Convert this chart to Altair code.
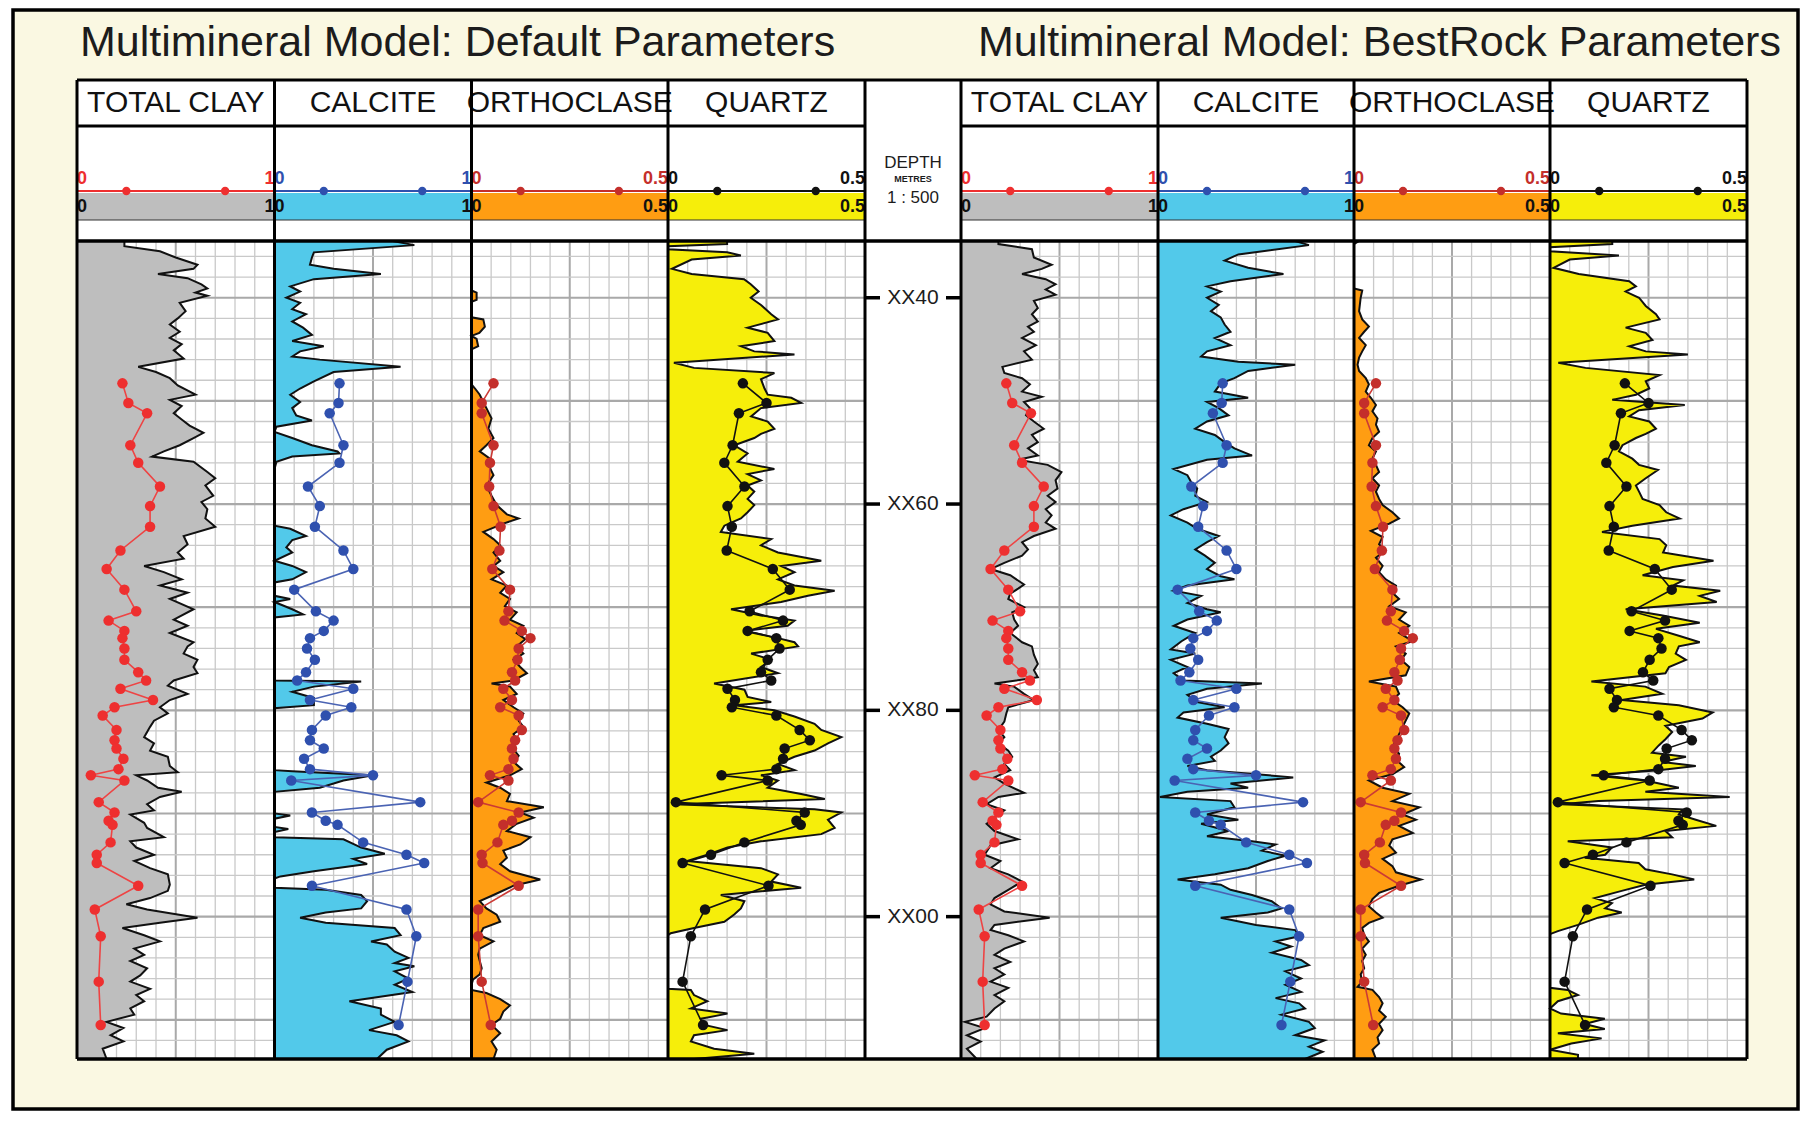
import altair as alt
import pandas as pd

# ---------------------------------------------------------------- text
PANEL_TITLES = ["Multimineral Model: Default Parameters",
                "Multimineral Model: BestRock Parameters"]
TRACK_NAMES = ["TOTAL CLAY", "CALCITE", "ORTHOCLASE", "QUARTZ"]
TRACK_MAX = [1.0, 1.0, 0.5, 0.5]
TRACK_LOW = ["0", "0", "0", "0"]
TRACK_HIGH = ["1", "1", "0.5", "0.5"]
DEPTH_HEADER = ["DEPTH", "METRES", "1 : 500"]
DEPTH_TICKS = [40, 60, 80, 100]
DEPTH_LABELS = ["XX40", "XX60", "XX80", "XX00"]
DEPTH_RANGE = [34.5, 113.8]
GRID_MINOR = [d for d in range(36, 114, 2) if d % 10]
GRID_MAJOR = [40, 50, 60, 70, 80, 90, 100, 110]

# ---------------------------------------------------------------- default-parameter curves (depth, value)
D_CLAY = [(34.5,0.24),(35.0,0.24),(35.5,0.42),(36.1,0.50),(36.8,0.61),(37.2,0.59),(37.7,0.41),(38.1,0.56),(38.7,0.63),(39.1,0.66),
 (39.5,0.60),(39.8,0.66),(40.5,0.52),(41.3,0.55),(42.0,0.51),(42.6,0.47),(43.3,0.52),(43.9,0.47),(44.5,0.53),(45.1,0.49),
 (45.9,0.54),(46.7,0.31),(47.2,0.40),(47.8,0.47),(48.5,0.51),(49.4,0.60),(49.9,0.47),(50.5,0.53),(51.2,0.49),(51.8,0.53),
 (52.4,0.57),(53.1,0.64),(53.6,0.59),(54.3,0.52),(54.9,0.44),(55.4,0.38),(55.9,0.59),(56.9,0.66),(57.5,0.70),(58.2,0.65),
 (59.2,0.69),(59.8,0.63),(60.5,0.66),(61.4,0.65),(62.2,0.70),(63.1,0.54),(63.9,0.56),(64.7,0.51),(65.3,0.54),(66.0,0.34),
 (66.6,0.44),(67.3,0.53),(67.9,0.42),(68.6,0.56),(69.2,0.47),(70.2,0.59),(71.2,0.49),(71.8,0.56),(72.5,0.47),(73.4,0.59),
 (73.8,0.56),(74.5,0.54),(75.1,0.61),(75.8,0.59),(76.4,0.61),(77.1,0.49),(77.6,0.46),(78.4,0.56),(79.0,0.47),(79.7,0.42),
 (80.3,0.46),(81.0,0.39),(81.6,0.37),(82.6,0.34),(83.2,0.39),(83.9,0.37),(84.5,0.46),(85.4,0.47),(86.0,0.51),(86.3,0.30),
 (86.8,0.355),(87.5,0.41),(87.9,0.53),(88.4,0.42),(89.1,0.355),(89.7,0.39),(90.1,0.27),(90.9,0.34),(91.4,0.355),(92.3,0.44),
 (92.7,0.27),(93.3,0.30),(94.0,0.39),(94.6,0.29),(95.3,0.37),(95.9,0.46),(96.9,0.47),(97.5,0.46),(98.2,0.37),(98.8,0.25),
 (99.3,0.355),(100.1,0.61),(100.6,0.42),(101.1,0.23),(101.8,0.34),(102.4,0.42),(103.1,0.29),(103.7,0.34),(104.3,0.27),(105.0,0.355),
 (105.7,0.32),(106.3,0.27),(107.0,0.37),(107.6,0.30),(108.2,0.34),(108.9,0.27),(109.5,0.29),(110.2,0.15),(110.8,0.235),(111.5,0.17),
 (112.1,0.235),(112.8,0.13),(113.8,0.15)]

D_CALC = [(34.5,0.60),(34.9,0.71),(35.6,0.20),(36.1,0.19),(36.8,0.18),(37.2,0.30),(37.7,0.54),(38.2,0.20),(38.9,0.08),(39.4,0.13),
 (40.0,0.06),(40.5,0.13),(41.1,0.09),(41.6,0.16),(42.3,0.09),(42.9,0.145),(43.6,0.19),(44.2,0.09),(44.7,0.25),(45.2,0.13),
 (45.7,0.09),(46.0,0.23),(46.7,0.64),(47.2,0.30),(48.1,0.20),(48.8,0.13),(49.4,0.08),(50.1,0.13),(50.7,0.09),(51.4,0.11),
 (51.9,0.19),(52.5,0.01),(53.0,0.0),(53.6,0.09),(54.3,0.19),(54.9,0.32),(55.1,0.33),(55.4,0.09),(55.9,0.01),(56.6,0.0),
 (62.1,0.0),(62.4,0.08),(63.1,0.16),(63.5,0.09),(64.2,0.06),(64.7,0.09),(65.5,0.0),(66.0,0.09),(66.6,0.16),(67.3,0.09),
 (67.6,0.0),(68.9,0.0),(69.2,0.08),(69.5,0.0),(70.2,0.09),(70.7,0.145),(71.0,0.0),(77.1,0.0),(77.2,0.44),(77.7,0.20),
 (78.2,0.09),(78.8,0.20),(79.5,0.20),(79.8,0.0),(85.8,0.0),(85.9,0.09),(86.3,0.50),(86.8,0.35),(87.5,0.23),(87.9,0.0),
 (90.0,0.0),(90.2,0.08),(90.5,0.0),(91.3,0.0),(91.5,0.07),(91.8,0.0),(92.3,0.0),(92.5,0.35),(93.3,0.44),(93.9,0.56),
 (94.4,0.40),(94.9,0.47),(95.6,0.20),(96.1,0.03),(96.3,0.0),(97.2,0.0),(97.4,0.26),(97.9,0.44),(98.5,0.47),(99.2,0.44),
 (99.6,0.26),(100.1,0.13),(100.6,0.26),(101.1,0.61),(101.8,0.64),(102.4,0.49),(102.7,0.57),(103.4,0.61),(104.0,0.68),(104.5,0.61),
 (104.8,0.71),(105.3,0.61),(106.0,0.68),(106.6,0.61),(107.3,0.70),(108.2,0.38),(108.9,0.54),(109.5,0.54),(110.2,0.61),(111.0,0.48),
 (111.5,0.62),(112.1,0.68),(112.9,0.57),(113.8,0.52)]

D_ORTH = [(34.5,0.0),(39.3,0.0),(39.5,0.013),(40.2,0.013),(40.4,0.0),(41.9,0.0),(42.1,0.03),(42.8,0.034),(43.4,0.02),(43.7,0.0),
 (44.0,0.013),(44.7,0.017),(45.0,0.0),(48.4,0.0),(48.8,0.009),(49.4,0.021),(50.1,0.03),(50.7,0.038),(51.7,0.051),(52.7,0.043),
 (53.6,0.056),(54.3,0.038),(54.9,0.021),(55.6,0.047),(56.2,0.043),(57.2,0.056),(58.2,0.038),(59.2,0.051),(60.1,0.064),(61.0,0.09),
 (61.4,0.12),(61.9,0.081),(62.7,0.03),(63.4,0.056),(64.0,0.073),(64.7,0.056),(65.5,0.073),(66.0,0.056),(66.6,0.081),(67.3,0.051),
 (67.9,0.09),(68.6,0.073),(69.2,0.098),(69.9,0.085),(70.5,0.115),(71.2,0.098),(71.8,0.132),(72.5,0.115),(73.1,0.137),(73.8,0.115),
 (74.5,0.132),(75.1,0.107),(75.8,0.124),(76.4,0.141),(77.1,0.107),(77.4,0.051),(77.7,0.098),(78.4,0.115),(79.0,0.081),(79.7,0.107),
 (80.3,0.132),(81.0,0.12),(81.6,0.132),(82.3,0.107),(82.9,0.115),(83.6,0.103),(84.4,0.12),(85.0,0.107),(85.7,0.128),(86.3,0.098),
 (87.0,0.038),(87.5,0.073),(88.1,0.098),(88.8,0.09),(89.4,0.184),(89.9,0.124),(90.4,0.158),(91.0,0.115),(91.7,0.09),(92.3,0.15),
 (93.0,0.124),(93.6,0.081),(94.3,0.09),(94.9,0.073),(95.6,0.098),(96.4,0.175),(97.0,0.107),(97.9,0.056),(98.5,0.021),(99.2,0.038),
 (99.8,0.064),(100.5,0.073),(101.1,0.03),(101.8,0.021),(102.4,0.056),(103.1,0.021),(103.7,0.017),(104.3,0.021),(105.0,0.026),(105.6,0.021),
 (106.1,0.004),(106.6,0.0),(107.1,0.0),(107.4,0.038),(108.0,0.073),(108.6,0.098),(109.2,0.081),(109.9,0.073),(110.5,0.051),(111.3,0.073),
 (112.1,0.051),(112.9,0.064),(113.8,0.056)]

D_QTZ = [(34.5,0.15),(34.8,0.15),(35.0,0.0),(35.3,0.0),(35.6,0.15),(35.9,0.185),(36.3,0.06),(37.2,0.01),(37.7,0.06),(38.2,0.193),
 (38.7,0.21),(39.4,0.23),(40.0,0.21),(40.7,0.236),(41.6,0.262),(42.1,0.279),(42.9,0.202),(43.4,0.253),(44.2,0.27),(44.7,0.185),
 (45.2,0.219),(45.5,0.321),(46.3,0.015),(46.8,0.066),(47.3,0.27),(47.9,0.236),(48.8,0.245),(49.4,0.253),(49.7,0.313),(50.2,0.338),
 (50.7,0.236),(51.5,0.211),(52.0,0.253),(52.7,0.27),(53.2,0.236),(53.6,0.219),(54.3,0.168),(55.1,0.202),(55.9,0.177),(56.6,0.27),
 (57.1,0.202),(57.7,0.236),(58.2,0.202),(58.8,0.219),(59.5,0.202),(60.1,0.219),(60.8,0.202),(61.4,0.185),(62.1,0.143),(62.7,0.134),
 (63.4,0.262),(64.0,0.236),(64.7,0.279),(65.5,0.389),(66.0,0.287),(66.6,0.321),(67.3,0.279),(67.9,0.321),(68.4,0.423),(68.9,0.355),
 (69.5,0.287),(70.2,0.16),(70.8,0.236),(71.3,0.321),(71.8,0.304),(72.3,0.194),(73.0,0.279),(73.4,0.321),(73.8,0.33),(74.5,0.211),
 (75.1,0.262),(75.8,0.236),(76.4,0.279),(77.4,0.117),(78.0,0.194),(78.7,0.202),(79.2,0.262),(79.5,0.168),(80.0,0.27),(80.6,0.321),
 (81.3,0.372),(81.9,0.389),(82.6,0.44),(83.2,0.406),(83.9,0.372),(84.5,0.321),(85.2,0.279),(85.8,0.321),(86.3,0.236),(86.8,0.279),
 (87.5,0.253),(88.1,0.338),(88.6,0.398),(89.1,0.015),(89.6,0.372),(89.9,0.44),(90.6,0.406),(91.4,0.423),(92.0,0.389),(92.7,0.236),
 (93.3,0.151),(94.0,0.1),(94.6,0.049),(95.3,0.236),(95.9,0.279),(96.6,0.262),(97.2,0.338),(97.9,0.134),(98.5,0.194),(99.2,0.185),
 (99.8,0.168),(100.5,0.143),(101.1,0.066),(101.6,0.007),(101.8,0.0),(107.0,0.0),(107.1,0.058),(107.6,0.066),(108.2,0.1),(108.9,0.058),
 (109.4,0.151),(109.9,0.083),(110.5,0.092),(111.0,0.151),(111.5,0.066),(112.1,0.058),(112.8,0.117),(113.3,0.219),(113.8,0.066)]

# ---------------------------------------------------------------- BestRock-parameter curves (depth, value)
B_CLAY = [(34.5,0.19),(34.8,0.19),(35.3,0.36),(36.1,0.37),(36.8,0.46),(37.2,0.41),(37.7,0.31),(38.2,0.43),(38.7,0.48),(39.2,0.43),
 (39.7,0.48),(40.3,0.37),(41.0,0.39),(41.6,0.36),(42.3,0.39),(42.8,0.34),(43.3,0.37),(43.9,0.31),(44.6,0.38),(45.2,0.32),
 (46.0,0.36),(46.7,0.21),(47.3,0.22),(47.8,0.31),(48.4,0.35),(49.1,0.31),(49.6,0.41),(50.1,0.32),(50.7,0.35),(51.4,0.33),
 (52.0,0.37),(52.7,0.42),(53.3,0.36),(54.0,0.39),(54.6,0.34),(55.3,0.39),(55.7,0.29),(56.2,0.44),(56.9,0.51),(57.7,0.48),
 (58.5,0.49),(59.2,0.44),(59.8,0.48),(60.5,0.43),(61.1,0.46),(61.8,0.43),(62.4,0.48),(63.1,0.37),(63.7,0.31),(64.4,0.34),
 (65.0,0.31),(65.7,0.22),(66.3,0.15),(66.9,0.25),(67.8,0.32),(68.2,0.29),(68.7,0.25),(69.2,0.24),(70.0,0.32),(70.5,0.26),
 (71.2,0.27),(71.8,0.29),(72.5,0.25),(73.4,0.31),(73.8,0.36),(74.6,0.37),(75.5,0.39),(76.1,0.37),(76.8,0.39),(77.4,0.17),
 (77.7,0.27),(78.4,0.32),(79.0,0.37),(79.7,0.24),(80.3,0.23),(81.1,0.22),(81.9,0.19),(82.6,0.22),(83.2,0.19),(83.9,0.24),
 (84.5,0.26),(85.2,0.22),(85.8,0.25),(86.5,0.17),(87.1,0.22),(88.0,0.32),(88.4,0.19),(89.1,0.13),(89.7,0.22),(90.4,0.17),
 (91.0,0.13),(91.7,0.17),(92.5,0.29),(93.1,0.15),(94.0,0.12),(94.6,0.20),(95.3,0.15),(95.9,0.24),(96.6,0.31),(97.4,0.24),
 (98.2,0.17),(98.8,0.15),(99.5,0.22),(100.1,0.45),(100.8,0.17),(101.3,0.15),(101.8,0.24),(102.4,0.32),(103.1,0.22),(103.7,0.17),
 (104.4,0.25),(105.0,0.17),(105.6,0.22),(106.3,0.15),(106.9,0.24),(107.6,0.17),(108.2,0.22),(108.9,0.17),(109.7,0.13),(110.2,0.02),
 (110.8,0.12),(111.5,0.03),(112.1,0.10),(112.8,0.03),(113.8,0.08)]

B_CALC = [(34.5,0.70),(34.9,0.77),(35.8,0.41),(36.4,0.34),(37.1,0.46),(37.7,0.64),(38.4,0.37),(38.9,0.25),(39.4,0.32),(40.0,0.25),
 (40.7,0.31),(41.3,0.27),(41.9,0.32),(42.6,0.34),(43.3,0.37),(43.9,0.29),(44.6,0.37),(45.2,0.25),(45.7,0.22),(46.2,0.41),
 (46.5,0.70),(47.1,0.46),(47.8,0.39),(48.3,0.32),(49.1,0.29),(49.7,0.46),(50.1,0.25),(50.7,0.31),(51.4,0.36),(52.0,0.25),
 (52.7,0.19),(53.3,0.29),(54.0,0.34),(54.6,0.39),(55.3,0.48),(55.7,0.25),(56.6,0.08),(57.2,0.15),(57.9,0.17),(58.5,0.20),
 (59.2,0.19),(59.8,0.25),(60.5,0.13),(61.1,0.065),(61.8,0.15),(62.4,0.20),(63.1,0.31),(63.7,0.25),(64.4,0.19),(65.0,0.24),
 (65.7,0.29),(66.3,0.25),(67.0,0.32),(67.3,0.39),(67.9,0.15),(68.4,0.08),(68.9,0.22),(69.6,0.15),(70.2,0.25),(70.5,0.32),
 (71.2,0.15),(71.8,0.08),(72.5,0.19),(73.3,0.12),(74.1,0.065),(74.5,0.19),(75.1,0.065),(75.8,0.15),(76.4,0.08),(77.1,0.13),
 (77.4,0.53),(77.9,0.25),(78.5,0.15),(79.2,0.20),(79.7,0.34),(80.2,0.13),(80.7,0.10),(81.3,0.25),(81.8,0.36),(82.6,0.34),
 (83.2,0.36),(83.9,0.32),(84.5,0.27),(84.9,0.29),(85.4,0.15),(85.8,0.25),(86.5,0.69),(87.1,0.37),(87.5,0.46),(87.9,0.15),
 (88.4,0.01),(88.8,0.37),(89.4,0.39),(90.1,0.25),(90.6,0.41),(91.0,0.22),(91.7,0.36),(92.2,0.25),(92.7,0.48),(93.0,0.60),
 (93.6,0.53),(94.1,0.65),(94.6,0.56),(95.3,0.46),(95.9,0.29),(96.4,0.10),(96.9,0.32),(97.4,0.37),(97.9,0.48),(98.5,0.58),
 (99.2,0.63),(99.6,0.56),(100.1,0.32),(100.8,0.50),(101.3,0.70),(101.9,0.72),(102.4,0.60),(102.9,0.68),(103.5,0.58),(104.2,0.73),
 (104.7,0.77),(105.3,0.65),(106.0,0.73),(106.6,0.65),(107.3,0.73),(107.9,0.60),(108.4,0.72),(108.9,0.75),(109.5,0.63),(110.2,0.77),
 (110.8,0.80),(111.5,0.70),(112.0,0.85),(112.6,0.77),(113.1,0.84),(113.8,0.75)]

B_ORTH = [(34.5,0.013),(34.8,0.0),(39.1,0.0),(39.3,0.021),(40.0,0.017),(41.3,0.013),(42.1,0.021),(42.8,0.038),(43.3,0.026),(43.9,0.013),
 (44.6,0.03),(45.2,0.021),(45.8,0.013),(46.5,0.009),(47.1,0.013),(47.8,0.03),(48.4,0.038),(49.1,0.03),(49.7,0.043),(50.4,0.056),
 (51.0,0.047),(51.7,0.06),(52.3,0.056),(53.0,0.064),(53.6,0.047),(54.3,0.038),(54.9,0.056),(55.6,0.047),(56.2,0.056),(56.9,0.064),
 (57.5,0.047),(58.2,0.064),(58.8,0.056),(59.5,0.064),(60.1,0.073),(60.8,0.098),(61.4,0.115),(61.9,0.09),(62.6,0.043),(63.2,0.073),
 (63.9,0.064),(64.5,0.081),(65.2,0.056),(66.0,0.073),(66.6,0.064),(67.3,0.081),(67.9,0.107),(68.6,0.098),(69.2,0.115),(69.9,0.09),
 (70.5,0.132),(71.2,0.115),(71.8,0.141),(72.5,0.115),(73.3,0.15),(73.8,0.107),(74.5,0.132),(75.1,0.12),(75.8,0.141),(76.6,0.132),
 (77.2,0.038),(77.7,0.107),(78.4,0.115),(79.0,0.098),(79.7,0.124),(80.3,0.141),(81.0,0.132),(81.6,0.124),(82.3,0.115),(82.9,0.107),
 (83.6,0.098),(84.2,0.115),(84.9,0.111),(85.5,0.128),(86.2,0.098),(86.8,0.038),(87.5,0.073),(88.1,0.141),(88.8,0.098),(89.4,0.167),
 (90.1,0.124),(90.6,0.158),(91.2,0.115),(91.9,0.15),(92.5,0.098),(93.1,0.09),(93.8,0.107),(94.4,0.073),(95.1,0.098),(95.7,0.107),
 (96.4,0.171),(97.0,0.115),(97.7,0.064),(98.3,0.047),(99.0,0.038),(99.6,0.056),(100.1,0.073),(100.6,0.038),(101.1,0.021),(101.8,0.026),
 (102.4,0.038),(103.1,0.021),(103.7,0.03),(104.3,0.021),(105.0,0.026),(105.6,0.017),(106.3,0.021),(106.8,0.009),(107.1,0.047),(107.8,0.064),
 (108.4,0.073),(109.1,0.064),(109.7,0.081),(110.4,0.064),(111.0,0.073),(111.7,0.06),(112.3,0.064),(112.9,0.047),(113.8,0.056)]

B_QTZ = [(34.5,0.158),(34.8,0.158),(35.1,0.0),(35.5,0.0),(35.9,0.175),(36.3,0.05),(37.1,0.009),(37.7,0.073),(38.4,0.201),(38.9,0.218),
 (39.4,0.192),(40.0,0.226),(40.8,0.243),(41.6,0.269),(42.1,0.278),(42.9,0.192),(43.4,0.243),(44.1,0.26),(44.7,0.201),(45.2,0.243),
 (45.5,0.35),(46.3,0.021),(46.8,0.09),(47.5,0.278),(48.1,0.243),(48.8,0.252),(49.4,0.218),(49.9,0.158),(50.4,0.342),(50.9,0.226),
 (51.5,0.201),(52.0,0.252),(52.7,0.269),(53.2,0.243),(53.6,0.218),(54.3,0.184),(54.9,0.175),(55.6,0.209),(56.2,0.226),(56.7,0.274),
 (57.5,0.243),(58.2,0.218),(58.8,0.226),(59.5,0.235),(60.1,0.278),(60.8,0.295),(61.4,0.329),(62.1,0.209),(62.7,0.132),(63.4,0.278),
 (64.0,0.295),(64.7,0.287),(65.5,0.415),(66.1,0.312),(66.9,0.235),(67.4,0.338),(67.9,0.312),(68.4,0.432),(68.9,0.38),(69.5,0.423),
 (70.2,0.192),(70.8,0.286),(71.5,0.38),(72.1,0.269),(72.8,0.329),(73.4,0.38),(73.8,0.327),(74.5,0.319),(75.1,0.345),(75.8,0.302),
 (76.4,0.293),(77.2,0.105),(77.7,0.242),(78.4,0.285),(79.0,0.182),(79.5,0.327),(80.2,0.413),(80.8,0.387),(81.5,0.293),(82.1,0.31),
 (82.8,0.293),(83.4,0.276),(84.1,0.259),(84.5,0.345),(85.0,0.285),(85.4,0.37),(85.8,0.276),(86.3,0.105),(86.8,0.242),(87.5,0.327),
 (87.9,0.242),(88.4,0.456),(88.8,0.123),(89.1,0.028),(89.6,0.336),(90.1,0.327),(90.6,0.37),(91.2,0.422),(91.7,0.293),(92.3,0.31),
 (92.7,0.045),(93.3,0.157),(94.0,0.14),(94.3,0.088),(94.8,0.225),(95.4,0.242),(95.9,0.31),(96.4,0.366),(96.9,0.242),(97.5,0.182),
 (98.2,0.114),(98.7,0.157),(99.2,0.14),(99.6,0.182),(100.1,0.122),(100.8,0.071),(101.4,0.02),(101.7,0.0),(106.9,0.0),(107.1,0.045),
 (107.6,0.071),(108.2,0.02),(108.9,0.0),(109.4,0.028),(109.9,0.139),(110.4,0.088),(110.9,0.139),(111.3,0.02),(111.8,0.131),(112.3,0.054),
 (112.9,0.0),(113.4,0.071),(113.8,0.071)]

# ---------------------------------------------------------------- core measurements (same in both panels)
CORE_DEPTH = [48.3, 50.2, 51.2, 54.3, 56.0, 58.3, 60.2, 62.2, 64.5, 66.3, 68.3, 70.4, 71.3, 72.3, 73.0,
              74.0, 75.1, 76.3, 77.1, 77.9, 79.0, 79.7, 80.5, 81.9, 82.9, 83.7, 84.7, 85.7, 86.3, 86.8,
              88.9, 89.9, 90.7, 91.1, 92.8, 94.0, 94.8, 97.0, 99.3, 101.9, 106.3, 110.5]
CORE_CLAY = [0.23, 0.26, 0.355, 0.27, 0.31, 0.42, 0.37, 0.37, 0.22, 0.15, 0.24, 0.30, 0.16, 0.24, 0.23,
             0.24, 0.24, 0.31, 0.35, 0.22, 0.385, 0.19, 0.13, 0.20, 0.19, 0.20, 0.235, 0.21, 0.07, 0.24,
             0.11, 0.19, 0.16, 0.18, 0.17, 0.10, 0.10, 0.31, 0.09, 0.12, 0.11, 0.12]
CORE_CALCITE = [0.33, 0.325, 0.28, 0.35, 0.33, 0.17, 0.23, 0.205, 0.35, 0.40, 0.10, 0.21, 0.30, 0.25, 0.18,
                0.165, 0.205, 0.16, 0.115, 0.40, 0.18, 0.39, 0.26, 0.19, 0.18, 0.25, 0.15, 0.18, 0.50, 0.085,
                0.74, 0.19, 0.26, 0.32, 0.45, 0.67, 0.76, 0.19, 0.67, 0.72, 0.675, 0.63]
CORE_ORTHO = [0.056, 0.026, 0.026, 0.056, 0.047, 0.045, 0.056, 0.074, 0.071, 0.053, 0.098, 0.094, 0.084, 0.128, 0.15,
              0.12, 0.117, 0.103, 0.111, 0.081, 0.103, 0.073, 0.12, 0.128, 0.111, 0.103, 0.107, 0.094, 0.047, 0.094,
              0.017, 0.12, 0.103, 0.081, 0.066, 0.026, 0.028, 0.12, 0.017, 0.017, 0.026, 0.049]
CORE_QUARTZ = [0.19, 0.25, 0.18, 0.164, 0.143, 0.194, 0.151, 0.162, 0.149, 0.266, 0.309, 0.207, 0.292, 0.202, 0.275,
               0.283, 0.253, 0.236, 0.262, 0.151, 0.17, 0.162, 0.275, 0.334, 0.36, 0.296, 0.292, 0.275, 0.136, 0.253,
               0.02, 0.347, 0.326, 0.337, 0.194, 0.109, 0.037, 0.255, 0.094, 0.058, 0.037, 0.089]

# ---------------------------------------------------------------- style / layout
FONT = "Liberation Sans"
CREAM = "#faf8e2"
GRID = "#c9c9c9"
GRID_DARK = "#a9a9a9"
FILL = ["#bebebe", "#52c9ea", "#ff9d12", "#f6ee0a"]
DOT = ["#ee2f2f", "#2f50ae", "#c42f2b", "#111111"]
CORE_LINE = ["#ee4444", "#4a63b3", "#cc3a35", "#111111"]

H = 818
FULL_W = 1670
TRACK_X = [(0, 197.5), (197.5, 394.5), (394.5, 591), (591, 788),
           (884, 1081), (1081, 1277), (1277, 1473), (1473, 1670)]
DEPTH_X = (788, 884)
EDGES = [0, 197.5, 394.5, 591, 788, 884, 1081, 1277, 1473, 1670]
Y_HEAD = -161
Y_NAMEBOT = -115

YS = alt.Scale(domain=DEPTH_RANGE, reverse=True, nice=False, zero=False)
ONE = pd.DataFrame({"k": [0]})
layers = []


def deco_rule(x, x2, y, y2, **kw):
    return alt.Chart(ONE).mark_rule(**kw).encode(
        x=alt.value(x), x2=alt.value(x2), y=alt.value(y), y2=alt.value(y2))


def ytrack():
    return alt.Y("d:Q", scale=YS, axis=None)


# background frame
layers.append(alt.Chart(ONE).mark_rect(fill=CREAM, stroke="black", strokeWidth=3.5).encode(
    x=alt.value(-64), x2=alt.value(1721), y=alt.value(-231), y2=alt.value(868)))
layers.append(alt.Chart(ONE).mark_rect(fill="white").encode(
    x=alt.value(0), x2=alt.value(FULL_W), y=alt.value(Y_HEAD), y2=alt.value(H)))

# panel titles
for px, title in zip([3, 901], PANEL_TITLES):
    layers.append(alt.Chart(ONE).mark_text(align="left", baseline="middle", fontSize=43, font=FONT,
                                          color="#1c1c1c").encode(
        x=alt.value(px), y=alt.value(-198), text=alt.value(title)))

panels = [[D_CLAY, D_CALC, D_ORTH, D_QTZ], [B_CLAY, B_CALC, B_ORTH, B_QTZ]]
cores = [CORE_CLAY, CORE_CALCITE, CORE_ORTHO, CORE_QUARTZ]
minor_df = pd.DataFrame({"d": GRID_MINOR})
major_df = pd.DataFrame({"d": GRID_MAJOR})

for p in range(2):
    for t in range(4):
        span = TRACK_X[p * 4 + t]
        xmax = TRACK_MAX[t]
        sc = alt.Scale(domain=[0, xmax], range=[span[0], span[1]], nice=False, zero=False)

        def XD(v):
            return alt.XDatum(v, scale=sc, axis=None)

        # grid: vertical
        gv_minor = pd.DataFrame({"g": [xmax * i / 10 for i in range(1, 10) if i != 5]})
        gv_major = pd.DataFrame({"g": [xmax * 0.5]})
        layers.append(alt.Chart(gv_minor).mark_rule(color=GRID, strokeWidth=1.3).encode(
            x=alt.X("g:Q", scale=sc, axis=None), y=alt.value(0), y2=alt.value(H)))
        layers.append(alt.Chart(gv_major).mark_rule(color=GRID_DARK, strokeWidth=2).encode(
            x=alt.X("g:Q", scale=sc, axis=None), y=alt.value(0), y2=alt.value(H)))
        # grid: horizontal
        layers.append(alt.Chart(minor_df).mark_rule(color=GRID, strokeWidth=1.3).encode(
            y=ytrack(), x=XD(0), x2=alt.X2Datum(xmax)))
        layers.append(alt.Chart(major_df).mark_rule(color=GRID_DARK, strokeWidth=2.2).encode(
            y=ytrack(), x=XD(0), x2=alt.X2Datum(xmax)))

        # curve
        cdf = pd.DataFrame(panels[p][t], columns=["d", "v"])
        layers.append(alt.Chart(cdf).mark_area(orient="horizontal", color=FILL[t], opacity=1).encode(
            y=ytrack(), x=alt.X("v:Q", scale=sc, axis=None, stack=None), x2=alt.X2Datum(0)))
        layers.append(alt.Chart(cdf).mark_line(color="#111111", strokeWidth=2).encode(
            y=ytrack(), x=alt.X("v:Q", scale=sc, axis=None), order=alt.Order("d:Q")))

        # core points
        kdf = pd.DataFrame({"d": CORE_DEPTH, "v": cores[t]})
        layers.append(alt.Chart(kdf).mark_line(color=CORE_LINE[t], strokeWidth=1.6).encode(
            y=ytrack(), x=alt.X("v:Q", scale=sc, axis=None), order=alt.Order("d:Q")))
        layers.append(alt.Chart(kdf).mark_circle(color=DOT[t], size=110, opacity=1).encode(
            y=ytrack(), x=alt.X("v:Q", scale=sc, axis=None)))

        # header: name
        layers.append(alt.Chart(pd.DataFrame({"name": [TRACK_NAMES[t]]})).mark_text(
            fontSize=30, font=FONT, color="#111111", baseline="middle").encode(
            x=XD(xmax / 2), y=alt.value(-138), text="name:N"))
        # header: colour band
        layers.append(alt.Chart(ONE).mark_rect(color=FILL[t]).encode(
            x=XD(0), x2=alt.X2Datum(xmax), y=alt.value(-48), y2=alt.value(-21)))
        layers.append(alt.Chart(ONE).mark_rule(color="#333333", strokeWidth=1.2).encode(
            x=XD(0), x2=alt.X2Datum(xmax), y=alt.value(-21)))
        # header: core line legend
        layers.append(alt.Chart(ONE).mark_rule(color=DOT[t], strokeWidth=1.8).encode(
            x=XD(0), x2=alt.X2Datum(xmax), y=alt.value(-50)))
        layers.append(alt.Chart(pd.DataFrame({"g": [xmax * 0.25, xmax * 0.75]})).mark_circle(
            color=DOT[t], size=70, opacity=1).encode(
            x=alt.X("g:Q", scale=sc, axis=None), y=alt.value(-50)))
        # header: scale numbers
        for yy, col in [(-62, DOT[t]), (-34, "#111111")]:
            layers.append(alt.Chart(ONE).mark_text(align="left", baseline="middle", fontSize=18,
                                                   fontWeight="bold", font=FONT, color=col, dx=0).encode(
                x=XD(0), y=alt.value(yy), text=alt.value(TRACK_LOW[t])))
            layers.append(alt.Chart(ONE).mark_text(align="right", baseline="middle", fontSize=18,
                                                   fontWeight="bold", font=FONT, color=col, dx=0).encode(
                x=XD(xmax), y=alt.value(yy), text=alt.value(TRACK_HIGH[t])))

# depth column
dcx = (DEPTH_X[0] + DEPTH_X[1]) / 2
for txt, yy, fs, fw in [(DEPTH_HEADER[0], -78, 17, "normal"), (DEPTH_HEADER[1], -62, 9, "bold"),
                        (DEPTH_HEADER[2], -43, 17, "normal")]:
    layers.append(alt.Chart(ONE).mark_text(fontSize=fs, fontWeight=fw, font=FONT, color="#1c1c1c",
                                          baseline="middle").encode(
        x=alt.value(dcx), y=alt.value(yy), text=alt.value(txt)))
ddf = pd.DataFrame({"d": DEPTH_TICKS, "lab": DEPTH_LABELS})
layers.append(alt.Chart(ddf).mark_rule(color="black", strokeWidth=3.5).encode(
    y=ytrack(), x=alt.value(DEPTH_X[0]), x2=alt.value(DEPTH_X[0] + 15)))
layers.append(alt.Chart(ddf).mark_rule(color="black", strokeWidth=3.5).encode(
    y=ytrack(), x=alt.value(DEPTH_X[1] - 15), x2=alt.value(DEPTH_X[1])))
layers.append(alt.Chart(ddf).mark_text(fontSize=21, font=FONT, color="#1c1c1c", baseline="middle").encode(
    y=ytrack(), x=alt.value(dcx), text="lab:N"))

# frame lines
layers.append(deco_rule(0, FULL_W, Y_HEAD, Y_HEAD, color="black", strokeWidth=3))
layers.append(deco_rule(0, DEPTH_X[0], Y_NAMEBOT, Y_NAMEBOT, color="black", strokeWidth=3))
layers.append(deco_rule(DEPTH_X[1], FULL_W, Y_NAMEBOT, Y_NAMEBOT, color="black", strokeWidth=3))
layers.append(deco_rule(0, FULL_W, 0, 0, color="black", strokeWidth=3.5))
layers.append(deco_rule(0, FULL_W, H, H, color="black", strokeWidth=3.5))
for e in EDGES:
    layers.append(deco_rule(e, e, Y_HEAD, H, color="black", strokeWidth=3))

chart = alt.layer(*layers).resolve_scale(x="independent").properties(
    width=FULL_W, height=H, background="white",
    padding={"left": 3, "top": 0, "right": 3, "bottom": 0},
).configure_view(stroke=None)

chart.save("out.html", embed_options={"renderer": "svg", "actions": False})
